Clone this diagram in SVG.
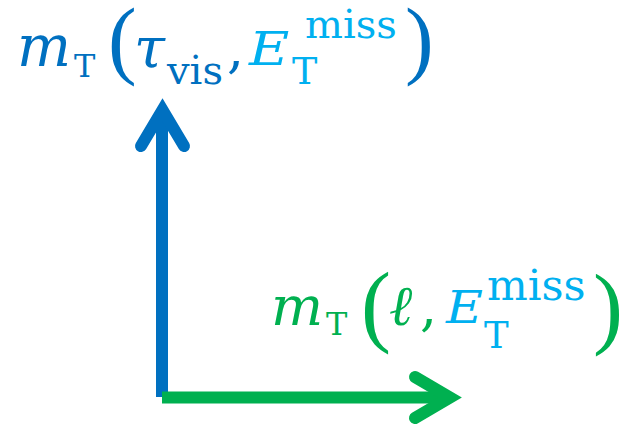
<svg xmlns="http://www.w3.org/2000/svg" width="626" height="427" viewBox="0 0 626 427">
<style>
.f{font-family:"DejaVu Serif","Liberation Serif",serif}
.it{font-style:italic}
.p{font-family:"Liberation Serif",serif}
.blue{fill:#0070C0}
.green{fill:#00B050}
.cyan{fill:#00B0F0}
.shaft{fill:none;stroke-width:12;stroke-linecap:butt}
.head{fill:none;stroke-width:12;stroke-linecap:round;stroke-linejoin:miter;stroke-miterlimit:10}
</style>
<rect width="626" height="427" fill="#ffffff"/>
<g id="connectors">
<line class="shaft" x1="162" y1="397" x2="162" y2="112" stroke="#0070C0"/>
<polyline class="head" points="141,146 162.5,110 184,146" stroke="#0070C0"/>
<line class="shaft" x1="162" y1="397.5" x2="448" y2="397.5" stroke="#00B050"/>
<polyline class="head" points="415,377 450,397.5 415,418" stroke="#00B050"/>
</g>
<g id="label-tau">
<text class="f it blue" x="17" y="66" font-size="57">m</text>
<text class="f blue" x="74" y="77" font-size="32">T</text>
<text class="p blue" x="108" y="68" font-size="86">(</text>
<text class="f it blue" x="134" y="67" font-size="56">τ</text>
<text class="f blue" x="167" y="84" font-size="40">vis</text>
<text class="f blue" x="227" y="67" font-size="54">,</text>
<text class="f it cyan" x="249" y="65" font-size="46" transform="translate(249 0) scale(1.2 1) translate(-249 0)">E</text>
<text class="f cyan" x="305" y="38" font-size="40">miss</text>
<text class="f cyan" x="292" y="84" font-size="38">T</text>
<text class="p blue" x="405" y="68" font-size="86">)</text>
</g>
<g id="label-lepton">
<text class="f it green" x="271" y="325" font-size="55">m</text>
<text class="f green" x="326" y="335" font-size="32">T</text>
<text class="p green" x="361" y="335" font-size="90">(</text>
<text class="f it green" x="389" y="325" font-size="56">ℓ</text>
<text class="f green" x="420" y="325" font-size="54">,</text>
<text class="f it cyan" x="446" y="323" font-size="44" transform="translate(446 0) scale(1.15 1) translate(-446 0)">E</text>
<text class="f cyan" x="487" y="300" font-size="43">miss</text>
<text class="f cyan" x="484" y="348" font-size="37">T</text>
<text class="p green" x="593" y="337" font-size="90">)</text>
</g>
</svg>
